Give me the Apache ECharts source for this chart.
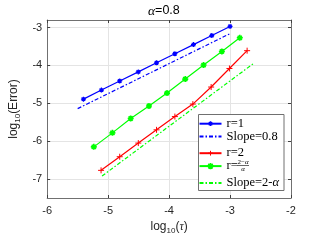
<!DOCTYPE html>
<html><head><meta charset="utf-8">
<script src="https://cdn.jsdelivr.net/npm/echarts@6/dist/echarts.min.js"></script>
<style>html,body{margin:0;padding:0;background:#fff}#c{width:321px;height:241px}</style>
</head><body><div id="c"></div>
<script>
// ---- data ----
const xTicks = [-6, -5, -4, -3, -2];
const yTicks = [-7, -6, -5, -4, -3];
const xR1 = [-5.405, -5.11, -4.81, -4.505, -4.206, -3.905, -3.60, -3.30, -3.0];
const yR1 = [-4.89, -4.65, -4.41, -4.17, -3.93, -3.69, -3.45, -3.21, -2.97];
const xSlope1 = [-5.5, -3.0];
const ySlope1 = [-5.14, -3.16];
const xR2 = [-5.116, -4.81, -4.505, -4.206, -3.905, -3.61, -3.31, -3.01, -2.72];
const yR2 = [-6.77, -6.41, -6.05, -5.70, -5.35, -5.02, -4.57, -4.08, -3.61];
const xRa = [-5.235, -4.93, -4.63, -4.33, -4.034, -3.735, -3.434, -3.134, -2.84];
const yRa = [-6.15, -5.78, -5.40, -5.07, -4.73, -4.36, -3.99, -3.63, -3.27];
const xSlope2 = [-5.1, -2.6];
const ySlope2 = [-6.92, -3.93];
const seriesNames = ['r=1', 'Slope=0.8', 'r=2', 'r=(2-α)/α', 'Slope=2-α'];
const legendLabels = ['r=1', 'Slope=0.8', 'r=2', 'r=', 'Slope=2-{a|α}'];

const pairs = (xs, ys) => xs.map((x, i) => [x, ys[i]]);
const STAR = 'path://M5,0L5,10M0,5L10,5M1.5,1.5L8.5,8.5M8.5,1.5L1.5,8.5';
const PLUS = 'path://M0,5L10,5M5,0L5,10';
const BLUE = '#0000ff', RED = '#ff0000', GREEN = '#00ff00';
const DASHDOT = [4, 2, 1.5, 2];

const frameColor = '#707070';
const tickLabel = {fontFamily: 'Liberation Sans', fontSize: 11, color: '#262626'};

function xAxis(pos, main) {
  return {
    type: 'value', position: pos, min: -6, max: -2,
    axisLine: {show: true, onZero: false, lineStyle: {color: frameColor, width: 1}},
    axisTick: {show: true, inside: true, length: 3, customValues: xTicks, lineStyle: {color: '#404040'}},
    axisLabel: Object.assign({show: main, margin: 7, customValues: xTicks}, tickLabel),
    splitLine: {show: main, lineStyle: {color: '#e4e4e4', width: 1}},
    name: main ? 'log{s|10}({t|τ})' : '',
    nameLocation: 'middle', nameGap: 21,
    nameTextStyle: {fontFamily: 'Liberation Sans', fontSize: 12, color: '#262626',
      rich: {s: {fontFamily: 'Liberation Sans', fontSize: 8, color: '#262626', padding: [7, 0, 0, 0]},
             t: {fontFamily: 'Liberation Serif', fontStyle: 'italic', fontSize: 12, color: '#262626'}}}
  };
}
function yAxis(pos, main) {
  return {
    type: 'value', position: pos, min: -7.5, max: -2.8,
    axisLine: {show: true, onZero: false, lineStyle: {color: frameColor, width: 1}},
    axisTick: {show: true, inside: true, length: 3, customValues: yTicks, lineStyle: {color: '#404040'}},
    axisLabel: Object.assign({show: main, margin: 5, customValues: yTicks}, tickLabel),
    splitLine: {show: main, lineStyle: {color: '#e4e4e4', width: 1}},
    name: main ? 'log{s|10}(Error)' : '',
    nameLocation: 'middle', nameGap: 20,
    nameTextStyle: {fontFamily: 'Liberation Sans', fontSize: 12, color: '#262626',
      rich: {s: {fontFamily: 'Liberation Sans', fontSize: 8, color: '#262626', padding: [7, 0, 0, 0]}}}
  };
}

const legendRows = [123.2, 136, 152.7, 165.6, 182.5];
const legendIconH = [6, 6, 6, 8, 6];
const legendStyle = [
  {borderWidth: 1.2},
  {opacity: 0},
  {borderWidth: 1},
  {borderWidth: 1.6},
  {opacity: 0}
];
const legends = seriesNames.map((n, i) => ({
  data: [n], orient: 'vertical', left: 198.5, top: legendRows[i] - 6,
  itemWidth: 22, itemHeight: legendIconH[i], itemGap: 0, padding: 0,
  selectedMode: false, z: 6,
  itemStyle: legendStyle[i],
  formatter: () => legendLabels[i],
  textStyle: {fontFamily: 'Liberation Serif', fontSize: 12.5, color: '#000', lineHeight: 12,
    rich: {a: {fontFamily: 'Liberation Serif', fontStyle: 'italic', fontSize: 12.5, color: '#000', lineHeight: 12}}}
}));

const chart = echarts.init(document.getElementById('c'), null, {renderer: 'canvas'});
chart.setOption({
  animation: false,
  title: {
    text: '{a|α}{b|=0.8}', left: 148, top: 4, padding: 0,
    textStyle: {fontWeight: 'normal', rich: {
      a: {fontFamily: 'Liberation Serif', fontStyle: 'italic', fontWeight: 'normal', fontSize: 13.5, color: '#000'},
      b: {fontFamily: 'Liberation Sans', fontWeight: 'normal', fontSize: 12.5, color: '#000'}}}
  },
  grid: {left: 42, right: 30, top: 20, bottom: 43},
  xAxis: [xAxis('bottom', true), xAxis('top', false)],
  yAxis: [yAxis('left', true), yAxis('right', false)],
  legend: legends,
  graphic: [
    {type: 'rect', z: 5, shape: {x: 198.5, y: 114.5, width: 85.5, height: 76},
     style: {fill: '#fff', stroke: frameColor, lineWidth: 1}},
    {type: 'text', z: 7, x: 243, y: 162.3,
     style: {text: '2−{a|α}', fontFamily: 'Liberation Serif', fontSize: 7, fill: '#000',
       align: 'center', verticalAlign: 'middle',
       rich: {a: {fontFamily: 'Liberation Serif', fontStyle: 'italic', fontSize: 7}}}},
    {type: 'line', z: 7, shape: {x1: 237, y1: 165.5, x2: 249, y2: 165.5},
     style: {stroke: '#000', lineWidth: 0.6}},
    {type: 'text', z: 7, x: 243, y: 169.3,
     style: {text: 'α', fontFamily: 'Liberation Serif', fontStyle: 'italic', fontSize: 7, fill: '#000',
       align: 'center', verticalAlign: 'middle'}}
  ],
  series: [
    {name: seriesNames[0], type: 'line', data: pairs(xR1, yR1), symbol: STAR, symbolSize: 5,
     lineStyle: {color: BLUE, width: 1.2}, itemStyle: {color: BLUE, borderColor: BLUE, borderWidth: 1.2}},
    {name: seriesNames[1], type: 'line', data: pairs(xSlope1, ySlope1), symbol: 'none', showSymbol: false,
     lineStyle: {color: BLUE, width: 1.2, type: DASHDOT}, itemStyle: {color: BLUE}},
    {name: seriesNames[2], type: 'line', data: pairs(xR2, yR2), symbol: PLUS, symbolSize: 6,
     lineStyle: {color: RED, width: 1.2}, itemStyle: {color: RED, borderColor: RED, borderWidth: 1}},
    {name: seriesNames[3], type: 'line', data: pairs(xRa, yRa), symbol: STAR, symbolSize: 6,
     lineStyle: {color: GREEN, width: 1.2}, itemStyle: {color: GREEN, borderColor: GREEN, borderWidth: 1.6}},
    {name: seriesNames[4], type: 'line', data: pairs(xSlope2, ySlope2), symbol: 'none', showSymbol: false,
     lineStyle: {color: GREEN, width: 1.2, type: DASHDOT}, itemStyle: {color: GREEN}}
  ]
});
</script>
</body></html>
